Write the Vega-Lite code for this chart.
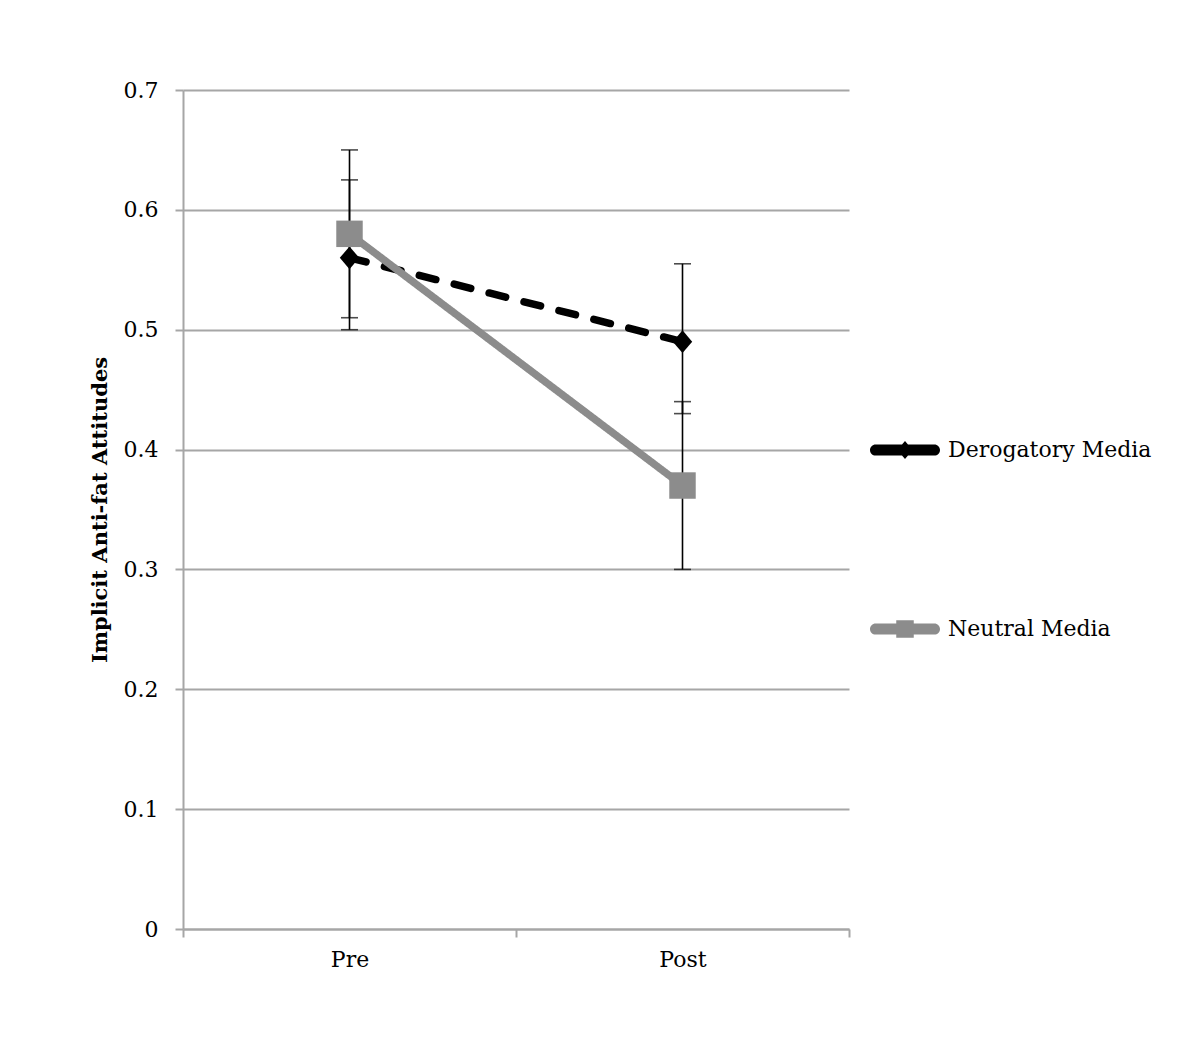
{
  "$schema": "https://vega.github.io/schema/vega-lite/v6.json",
  "autosize": {"type": "none"},
  "padding": {"left": 183, "top": 90, "right": 353, "bottom": 128},
  "width": 666,
  "height": 839,
  "background": "white",
  "config": {
    "font": "DejaVu Serif",
    "view": {"stroke": null},
    "axis": {"labelFont": "DejaVu Serif", "titleFont": "DejaVu Serif", "labelColor": "#000000", "titleColor": "#000000"},
    "legend": {
      "title": null,
      "orient": "none",
      "symbolSize": 4900,
      "symbolStrokeWidth": 0,
      "symbolOpacity": 1,
      "labelFontSize": 22,
      "labelFont": "DejaVu Serif",
      "labelColor": "#000000",
      "labelOffset": 8,
      "labelLimit": 400
    }
  },
  "data": {
    "values": [
      {"time": "Pre", "series": "Derogatory Media", "mean": 0.56, "lo": 0.5, "hi": 0.625},
      {"time": "Post", "series": "Derogatory Media", "mean": 0.49, "lo": 0.43, "hi": 0.555},
      {"time": "Pre", "series": "Neutral Media", "mean": 0.58, "lo": 0.51, "hi": 0.65},
      {"time": "Post", "series": "Neutral Media", "mean": 0.37, "lo": 0.3, "hi": 0.44}
    ]
  },
  "encoding": {
    "x": {
      "field": "time",
      "type": "nominal",
      "sort": ["Pre", "Post"],
      "scale": {"type": "band", "paddingInner": 0, "paddingOuter": 0},
      "axis": {
        "title": null,
        "labelAngle": 0,
        "labelFontSize": 22,
        "labelPadding": 12,
        "tickSize": 8,
        "tickBand": "extent",
        "domainColor": "#a6a6a6",
        "domainWidth": 2,
        "tickColor": "#a6a6a6",
        "tickWidth": 2,
        "grid": false
      }
    }
  },
  "layer": [
    {
      "mark": {"type": "rule", "color": "black", "strokeWidth": 1.6},
      "encoding": {
        "y": {"field": "lo", "type": "quantitative"},
        "y2": {"field": "hi"}
      }
    },
    {
      "mark": {"type": "tick", "color": "black", "size": 17, "thickness": 1.6, "orient": "horizontal"},
      "encoding": {"y": {"field": "lo", "type": "quantitative"}}
    },
    {
      "mark": {"type": "tick", "color": "black", "size": 17, "thickness": 1.6, "orient": "horizontal"},
      "encoding": {"y": {"field": "hi", "type": "quantitative"}}
    },
    {
      "mark": {"type": "line", "strokeWidth": 7.5, "strokeCap": "round"},
      "encoding": {
        "y": {
          "field": "mean",
          "type": "quantitative",
          "scale": {"domain": [0, 0.7], "nice": false},
          "axis": {
            "title": "Implicit Anti-fat Attitudes",
            "titleFontSize": 21,
            "titleFontWeight": "bold",
            "titlePadding": 13,
            "labelFontSize": 22,
            "labelPadding": 17,
            "values": [0, 0.1, 0.2, 0.3, 0.4, 0.5, 0.6, 0.7],
            "format": "~g",
            "tickSize": 8,
            "tickColor": "#a6a6a6",
            "tickWidth": 2,
            "domainColor": "#a6a6a6",
            "domainWidth": 2,
            "grid": true,
            "gridColor": "#a6a6a6",
            "gridWidth": 2
          }
        },
        "color": {
          "field": "series",
          "type": "nominal",
          "scale": {"domain": ["Derogatory Media", "Neutral Media"], "range": ["#000000", "#8c8c8c"]},
          "legend": null
        },
        "strokeDash": {
          "field": "series",
          "type": "nominal",
          "scale": {"domain": ["Derogatory Media", "Neutral Media"], "range": [[17, 19], [1, 0]]},
          "legend": null
        },
        "order": {"field": "time", "sort": "descending"}
      }
    },
    {
      "mark": {"type": "point", "filled": true, "opacity": 1, "strokeWidth": 0},
      "encoding": {
        "y": {"field": "mean", "type": "quantitative"},
        "color": {"field": "series", "type": "nominal", "legend": null},
        "shape": {
          "field": "series",
          "type": "nominal",
          "scale": {"domain": ["Derogatory Media", "Neutral Media"], "range": ["M0,-1L0.85,0L0,1L-0.85,0Z", "square"]},
          "legend": null
        },
        "size": {
          "field": "series",
          "type": "nominal",
          "scale": {"domain": ["Derogatory Media", "Neutral Media"], "range": [520, 700]},
          "legend": null
        }
      }
    },
    {
      "transform": [{"filter": "datum.series === 'Derogatory Media'"}],
      "mark": {"type": "point", "filled": true, "opacity": 0, "color": "#000000"},
      "encoding": {
        "y": {"field": "mean", "type": "quantitative"},
        "shape": {
          "field": "series",
          "type": "nominal",
          "scale": {
            "domain": ["Derogatory Media"],
            "range": ["M-0.84,-0.16H0.84A0.16,0.16 0 0 1 0.84,0.16H-0.84A0.16,0.16 0 0 1 -0.84,-0.16Z M0,-0.26L0.22,0L0,0.26L-0.22,0Z"]
          },
          "legend": {"legendX": 687, "legendY": 325, "symbolFillColor": "#000000"}
        }
      }
    },
    {
      "transform": [{"filter": "datum.series === 'Neutral Media'"}],
      "mark": {"type": "point", "filled": true, "opacity": 0, "color": "#8c8c8c"},
      "encoding": {
        "y": {"field": "mean", "type": "quantitative"},
        "shape": {
          "field": "series",
          "type": "nominal",
          "scale": {
            "domain": ["Neutral Media"],
            "range": ["M-0.84,-0.16H0.84A0.16,0.16 0 0 1 0.84,0.16H-0.84A0.16,0.16 0 0 1 -0.84,-0.16Z M-0.25,-0.25H0.25V0.25H-0.25Z"]
          },
          "legend": {"legendX": 687, "legendY": 504, "symbolFillColor": "#8c8c8c"}
        }
      }
    }
  ],
  "resolve": {"scale": {"shape": "independent", "size": "independent"}}
}
